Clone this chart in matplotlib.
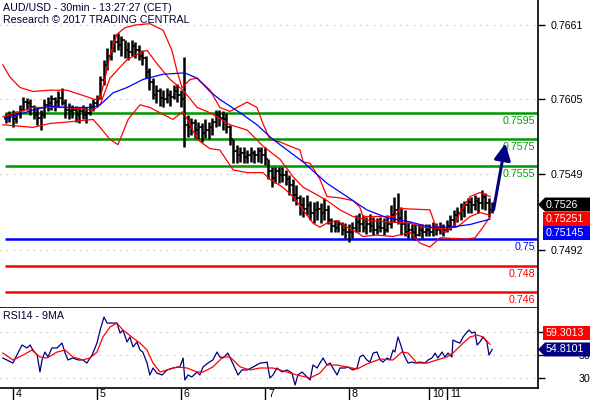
import numpy as np
import matplotlib
matplotlib.use("Agg")
import matplotlib.pyplot as plt
import matplotlib.transforms as mtrans
from matplotlib.patches import Polygon

plt.rcParams['font.family'] = ['Liberation Sans', 'DejaVu Sans']

# hourly bars, x = trading hours since the 4th 00:00 CET (weekend removed)
first_hour = -2
bar_high = [0.7595, 0.7596, 0.7597, 0.7596, 0.7601, 0.7607, 0.7606, 0.7605, 0.7601, 0.7599,
            0.7597, 0.7605, 0.7607, 0.7608, 0.7607, 0.7611, 0.7614, 0.7605, 0.7602, 0.7601,
            0.7600, 0.7599, 0.7601, 0.7599, 0.7602, 0.7605, 0.7608, 0.7623, 0.7635, 0.7644,
            0.7650, 0.7654, 0.7655, 0.7653, 0.7650, 0.7648, 0.7650, 0.7648, 0.7646, 0.7642,
            0.7638, 0.7629, 0.7621, 0.7616, 0.7614, 0.7612, 0.7614, 0.7612, 0.7616, 0.7617,
            0.7612, 0.7637, 0.7593, 0.7591, 0.7590, 0.7588, 0.7587, 0.7590, 0.7588, 0.7591,
            0.7597, 0.7597, 0.7596, 0.7595, 0.7586, 0.7575, 0.7571, 0.7569, 0.7569, 0.7567,
            0.7569, 0.7567, 0.7569, 0.7569, 0.7569, 0.7560, 0.7554, 0.7554, 0.7554, 0.7554,
            0.7552, 0.7548, 0.7545, 0.7541, 0.7533, 0.7532, 0.7533, 0.7529, 0.7528, 0.7529,
            0.7527, 0.7531, 0.7526, 0.7516, 0.7514, 0.7514, 0.7513, 0.7512, 0.7511, 0.7513,
            0.7518, 0.7520, 0.7518, 0.7517, 0.7519, 0.7517, 0.7516, 0.7517, 0.7516, 0.7518,
            0.7526, 0.7532, 0.7535, 0.7524, 0.7522, 0.7513, 0.7511, 0.7511, 0.7511, 0.7511,
            0.7511, 0.7511, 0.7513, 0.7512, 0.7513, 0.7511, 0.7514, 0.7518, 0.7522, 0.7524,
            0.7527, 0.7529, 0.7531, 0.7532, 0.7533, 0.7532, 0.7537, 0.7535, 0.7531, 0.7528]
bar_low = [0.7587, 0.7588, 0.7584, 0.7587, 0.7591, 0.7596, 0.7597, 0.7593, 0.7590, 0.7586,
           0.7582, 0.7591, 0.7596, 0.7597, 0.7596, 0.7599, 0.7601, 0.7591, 0.7590, 0.7591,
           0.7588, 0.7587, 0.7590, 0.7587, 0.7593, 0.7596, 0.7599, 0.7605, 0.7616, 0.7627,
           0.7635, 0.7641, 0.7642, 0.7638, 0.7636, 0.7635, 0.7638, 0.7636, 0.7635, 0.7631,
           0.7621, 0.7612, 0.7605, 0.7602, 0.7600, 0.7599, 0.7602, 0.7600, 0.7605, 0.7603,
           0.7599, 0.7569, 0.7577, 0.7578, 0.7576, 0.7575, 0.7573, 0.7576, 0.7575, 0.7578,
           0.7584, 0.7585, 0.7582, 0.7580, 0.7571, 0.7557, 0.7557, 0.7558, 0.7557, 0.7557,
           0.7558, 0.7557, 0.7558, 0.7557, 0.7556, 0.7545, 0.7539, 0.7542, 0.7542, 0.7543,
           0.7541, 0.7533, 0.7529, 0.7526, 0.7518, 0.7517, 0.7518, 0.7514, 0.7512, 0.7514,
           0.7512, 0.7514, 0.7511, 0.7505, 0.7505, 0.7505, 0.7503, 0.7501, 0.7498, 0.7501,
           0.7505, 0.7505, 0.7505, 0.7504, 0.7505, 0.7503, 0.7504, 0.7505, 0.7503, 0.7505,
           0.7508, 0.7513, 0.7511, 0.7503, 0.7502, 0.7501, 0.7501, 0.7499, 0.7502, 0.7501,
           0.7502, 0.7502, 0.7502, 0.7503, 0.7504, 0.7502, 0.7505, 0.7507, 0.7509, 0.7513,
           0.7514, 0.7517, 0.7520, 0.7520, 0.7522, 0.7520, 0.7523, 0.7522, 0.7517, 0.7520]
bar_close = [0.7591, 0.7593, 0.7590, 0.7594, 0.7597, 0.7603, 0.7602, 0.7599, 0.7593, 0.7591,
             0.7593, 0.7601, 0.7602, 0.7605, 0.7603, 0.7606, 0.7602, 0.7597, 0.7596, 0.7597,
             0.7593, 0.7596, 0.7593, 0.7595, 0.7599, 0.7602, 0.7605, 0.7620, 0.7631, 0.7638,
             0.7644, 0.7648, 0.7646, 0.7650, 0.7642, 0.7641, 0.7645, 0.7642, 0.7638, 0.7636,
             0.7626, 0.7618, 0.7608, 0.7611, 0.7606, 0.7605, 0.7608, 0.7607, 0.7611, 0.7608,
             0.7605, 0.7586, 0.7584, 0.7587, 0.7582, 0.7584, 0.7580, 0.7582, 0.7584, 0.7588,
             0.7593, 0.7591, 0.7590, 0.7584, 0.7575, 0.7566, 0.7563, 0.7565, 0.7562, 0.7563,
             0.7565, 0.7563, 0.7566, 0.7563, 0.7560, 0.7551, 0.7546, 0.7551, 0.7548, 0.7548,
             0.7545, 0.7541, 0.7533, 0.7531, 0.7526, 0.7523, 0.7526, 0.7520, 0.7522, 0.7523,
             0.7520, 0.7522, 0.7514, 0.7510, 0.7508, 0.7511, 0.7507, 0.7505, 0.7505, 0.7508,
             0.7513, 0.7511, 0.7508, 0.7511, 0.7510, 0.7507, 0.7509, 0.7508, 0.7507, 0.7511,
             0.7518, 0.7522, 0.7516, 0.7511, 0.7505, 0.7507, 0.7505, 0.7503, 0.7507, 0.7505,
             0.7507, 0.7505, 0.7508, 0.7507, 0.7508, 0.7507, 0.7510, 0.7514, 0.7518, 0.7520,
             0.7522, 0.7526, 0.7528, 0.7526, 0.7529, 0.7527, 0.7532, 0.7527, 0.7522, 0.7526]

# moving average (blue)
ma_hours = [-2.3, 2, 5.7, 10.6, 15.4, 22.9, 24.9, 28.6, 32.6, 37.1, 42.9, 49.1, 52.6, 56.3,
            59.1, 64.9, 69.7, 73.4, 76.3, 82.9, 89.7, 95.4, 101.1, 106.9, 113.4, 119.1,
            124.9, 130.6, 136.3]
ma_values = [0.7590, 0.7594, 0.7597, 0.7600, 0.7599, 0.7599, 0.7601, 0.7610, 0.7614, 0.7620,
             0.7624, 0.7625, 0.7621, 0.7611, 0.7605, 0.7595, 0.7586, 0.7577, 0.7571, 0.7558,
             0.7542, 0.7532, 0.7522, 0.7516, 0.7513, 0.7509, 0.7509, 0.7511, 0.7515]

# bollinger bands (red)
upper_hours = [-2.9, -0.9, 2, 5.7, 10.6, 15.4, 20, 23.4, 24.9, 26.3, 27.7, 29.7, 32, 34.9, 39.1,
               42.9, 45.4, 46.9, 48.3, 50.6, 52.6, 56.3, 59.1, 62, 64, 66.9, 69.7, 71.4, 73.4,
               76.3, 80, 82, 82.9, 84.9, 87.7, 89.7, 93.4, 97.1, 99.1, 100, 109.1, 110.6,
               119.1, 120.6, 123.4, 126.3, 127.7, 130.6, 133.4, 136.3]
upper_values = [0.7631, 0.7622, 0.7614, 0.7611, 0.7612, 0.7612, 0.7608, 0.7605, 0.7606, 0.7621,
                0.7638, 0.7654, 0.7659, 0.7661, 0.7662, 0.7657, 0.7642, 0.7626, 0.7614, 0.7620,
                0.7621, 0.7612, 0.7599, 0.7596, 0.7599, 0.7603, 0.7599, 0.7587, 0.7575, 0.7573,
                0.7569, 0.7567, 0.7558, 0.7557, 0.7545, 0.7532, 0.7531, 0.7529, 0.7524, 0.7517,
                0.7517, 0.7523, 0.7522, 0.7511, 0.7505, 0.7511, 0.7520, 0.7532, 0.7535, 0.7532]
mid_hours = [-2.9, 5.7, 15.4, 22.9, 24.9, 27.7, 32.6, 36.3, 38.3, 41.1, 44.9, 48.6, 52.6, 56.3,
             62, 66.9, 71.4, 76.3, 80, 82.9, 85.7, 89.7, 93.4, 97.1, 102, 106.9, 113.4, 117.1,
             122, 126.9, 130.6, 133.4, 136.3]
mid_values = [0.7592, 0.7599, 0.7599, 0.7597, 0.7601, 0.7621, 0.7635, 0.7640, 0.7642, 0.7632,
              0.7620, 0.7612, 0.7599, 0.7595, 0.7586, 0.7582, 0.7570, 0.7560, 0.7547, 0.7539,
              0.7535, 0.7529, 0.7522, 0.7517, 0.7514, 0.7513, 0.7512, 0.7509, 0.7508, 0.7509,
              0.7517, 0.7520, 0.7518]
lower_hours = [-2.9, 5.7, 10.6, 15.4, 22.9, 24.9, 27.7, 30, 32.9, 36.3, 39.1, 42, 45.7, 48.6,
               50.6, 52.6, 56.3, 59.1, 62.9, 66.9, 71.4, 73.4, 77.1, 80, 82.9, 85.7, 87.7, 89.7,
               92.6, 95.4, 98.3, 100, 104, 108.6, 113.4, 116.3, 119.1, 122, 129.7, 132, 134.3,
               136.3]
lower_values = [0.7586, 0.7584, 0.7587, 0.7588, 0.7590, 0.7584, 0.7575, 0.7571, 0.7590, 0.7601,
                0.7599, 0.7595, 0.7590, 0.7596, 0.7586, 0.7575, 0.7568, 0.7567, 0.7552, 0.7550,
                0.7550, 0.7545, 0.7539, 0.7532, 0.7522, 0.7512, 0.7509, 0.7512, 0.7514, 0.7509,
                0.7505, 0.7502, 0.7503, 0.7502, 0.7505, 0.7497, 0.7494, 0.7501, 0.7500, 0.7501,
                0.7509, 0.7517]

# RSI14 (navy) and its 9-period average (red)
rsi_hours = [-2.9, 0, 1.4, 2.6, 4, 4.9, 5.7, 6.9, 7.7, 8.3, 9.1, 10, 11.1, 12.6, 14, 14.9, 15.7,
             17.1, 18.6, 20, 21.1, 22.6, 24, 24.9, 26, 26.9, 28.3, 29.7, 30.6, 31.4, 32.6, 33.4,
             34.3, 35.4, 36.3, 37.1, 38.3, 39.1, 40, 41.1, 42.6, 44, 45.7, 47.7, 48.6, 49.1,
             50, 51.1, 52.6, 53.4, 54.3, 55.7, 57.1, 58.3, 59.1, 60, 61.4, 62.6, 63.4, 64.3,
             65.4, 66.9, 68.6, 70.6, 72, 72.6, 73.4, 74.3, 75.4, 76.9, 78.3, 79.7, 80.6, 81.4,
             82.6, 84, 84.9, 85.7, 86.9, 87.7, 88.6, 89.7, 90.6, 91.4, 92.6, 93.4, 94.9, 95.7,
             97.1, 98.3, 99.1, 100, 101.1, 102, 102.9, 104, 104.9, 105.7, 106.9, 107.7, 108.6,
             109.1, 110, 110.6, 111.4, 112, 112.9, 114, 114.9, 116.3, 117.7, 118.6, 119.7,
             120.6, 121.4, 122.6, 123.4, 124.3, 125.4, 125.7, 126.9, 127.7, 128.6, 129.7,
             130.3, 131.1, 132, 132.6, 133.4, 134.3, 135.4, 136, 136.9]
rsi_values = [47.4, 43.0, 51.7, 58.7, 56.1, 58.7, 54.3, 50.0, 35.2, 45.7, 52.6, 48.3, 56.1, 56.1,
              60.4, 51.7, 45.7, 47.4, 45.7, 45.7, 43.0, 50.0, 60.4, 71.7, 83.0, 77.8, 77.8,
              77.8, 69.1, 71.7, 61.3, 65.7, 57.0, 61.3, 54.3, 52.6, 43.0, 32.6, 38.7, 34.3,
              32.6, 37.0, 38.7, 39.6, 47.4, 28.3, 32.6, 30.9, 35.2, 32.6, 39.6, 43.0, 45.7,
              52.6, 48.3, 47.4, 51.7, 43.9, 38.7, 32.6, 37.0, 37.0, 39.6, 43.0, 43.4, 43.9,
              30.0, 32.6, 38.7, 35.2, 37.0, 34.3, 23.9, 32.6, 35.2, 30.9, 28.3, 41.3, 38.7,
              43.0, 47.4, 41.3, 43.0, 38.7, 32.6, 38.7, 38.7, 39.6, 37.0, 38.7, 48.3, 50.0,
              45.7, 43.9, 51.7, 52.6, 45.7, 43.9, 47.4, 45.7, 54.3, 52.6, 65.7, 60.4, 52.6,
              48.3, 43.0, 43.9, 43.0, 43.9, 43.0, 45.7, 47.4, 51.7, 47.4, 52.6, 48.3, 51.7,
              48.3, 63.0, 61.3, 60.4, 65.7, 70.0, 71.7, 69.1, 70.0, 58.7, 61.3, 65.7, 61.3,
              50.0, 54.8101]
rsi_ma_hours = [-2.9, 0, 2.9, 5.4, 7.7, 9.7, 12.6, 14.9, 17.1, 20, 22, 24, 25.7, 27.7, 29.7,
                31.4, 34.3, 36.3, 38.3, 40, 42, 44, 46.9, 49.7, 52.6, 54.3, 57.1, 60, 62, 64.9,
                67.7, 70.6, 74.3, 78.3, 81.1, 84.9, 87.7, 89.7, 92.6, 95.4, 98.3, 101.1, 104.9,
                108.6, 111.1, 112.9, 115.4, 118.3, 121.1, 124, 125.7, 128.6, 130.6, 132.6,
                134.3, 136.3]
rsi_ma_values = [51.7, 45.7, 50.0, 54.3, 48.3, 47.4, 52.6, 54.3, 48.3, 45.7, 47.4, 52.6, 65.7,
                 74.3, 77.8, 71.7, 64.8, 60.4, 54.3, 43.0, 35.2, 37.0, 39.6, 38.7, 35.2, 35.2,
                 39.6, 48.3, 48.3, 39.6, 37.0, 38.7, 38.7, 35.2, 32.6, 30.0, 34.3, 41.3, 41.3,
                 39.6, 37.8, 42.2, 46.5, 45.7, 52.6, 51.7, 43.0, 43.0, 45.7, 48.3, 51.7, 60.4,
                 65.7, 67.4, 65.7, 59.3013]

day_hours = [0, 24, 48, 72, 96, 119, 124]
day_labels = ['4', '5', '6', '7', '8', '10', '11']
price_ticks = [0.7661, 0.7605, 0.7549, 0.7492]
rsi_ticks = [30, 50, 70]
rsi_tick_labels = ['30', '50', '']   # the 70 label sits under the MA value box
levels = [0.7595, 0.7575, 0.7555, 0.75, 0.748, 0.746]
level_labels = ['0.7595', '0.7575', '0.7555', '0.75', '0.748', '0.746']
level_colors = ['#009600', '#009600', '#009600', '#0000ff', '#ff0000', '#ff0000']
level_text_colors = ['#00a000', '#00a000', '#00a000', '#0000ff', '#ff0000', '#ff0000']
arrow_from = (137.3, 0.7522)
arrow_to = (140.7, 0.7572)
last_ma_label = '0.75145'
last_band_label = '0.75251'

W, H = 590, 400
fig = plt.figure(figsize=(W / 100, H / 100), dpi=100)
ax = fig.add_axes([0, 92 / H, 538 / W, 308 / H])
rs = fig.add_axes([0, 12 / H, 538 / W, 80 / H])

xmin, xmax = -3.71, 150
ax.set_xlim(xmin, xmax)
ax.set_ylim(0.74482, 0.76798)
rs.set_xlim(xmin, xmax)
rs.set_ylim(21.3, 90.9)

for a in (ax, rs):
    a.spines['left'].set_visible(False)
    a.spines['top'].set_visible(False)
    a.spines['right'].set_linewidth(1.2)
    a.spines['bottom'].set_linewidth(1.2)
    a.yaxis.tick_right()
    a.grid(axis='y', color='#b4b4b4', linestyle=(0, (1, 5)), linewidth=0.8)

# price panel
ax.set_xticks([])
ax.set_yticks(price_ticks)
ax.set_yticklabels([f'{t:.4f}' for t in price_ticks])
ax.tick_params(axis='y', length=5, width=1, labelsize=7.7, pad=4, colors='black')

x0 = xmin + (xmax - xmin) * 5 / 538
for lv, lab, c, tc in zip(levels, level_labels, level_colors, level_text_colors):
    ax.plot([x0, xmax], [lv, lv], color=c, lw=1.8, solid_capstyle='butt', zorder=2)
    off = mtrans.ScaledTranslation(-3 / 100, -3 / 100, fig.dpi_scale_trans)
    ax.text(1, lv, lab, transform=mtrans.blended_transform_factory(ax.transAxes, ax.transData) + off,
            ha='right', va='top', fontsize=7.7, color=tc)

hours = np.arange(len(bar_close)) + first_hour
bar_open = [bar_close[0]] + bar_close[:-1]
ax.vlines(hours, bar_low, bar_high, color='black', lw=1.8, zorder=3)
ax.hlines(bar_open, hours - 0.55, hours, color='black', lw=1.2, zorder=3)
ax.hlines(bar_close, hours, hours + 0.55, color='black', lw=1.2, zorder=3)

ax.plot(upper_hours, upper_values, color='#ff0000', lw=0.9, zorder=4)
ax.plot(mid_hours, mid_values, color='#ff0000', lw=0.9, zorder=4)
ax.plot(lower_hours, lower_values, color='#ff0000', lw=0.9, zorder=4)
ax.plot(ma_hours, ma_values, color='#0000ff', lw=0.9, zorder=4)

ax.annotate('', xy=arrow_to, xytext=arrow_from,
            arrowprops=dict(arrowstyle='-|>,head_length=1.0,head_width=0.5', color='#000080',
                            lw=2.2, shrinkA=0, shrinkB=0), zorder=5)

fig.text(3 / W, 1 - 8 / H, 'AUD/USD - 30min - 13:27:27 (CET)', fontsize=7.7, color='#000030', va='center')
fig.text(3 / W, 1 - 20 / H, 'Research \u00a9 2017 TRADING CENTRAL', fontsize=7.7, color='#000030', va='center')


def side_box(axis, value, text, color, dy=0, arrow=False):
    # value label box right of the panel, dy in pixels (down positive)
    y = axis.transData.transform((0, value))[1] - dy
    hh = 7
    if arrow:
        pts = [(538, y), (545, y + hh), (W, y + hh), (W, y - hh), (545, y - hh)]
    else:
        pts = [(543, y + hh), (W, y + hh), (W, y - hh), (543, y - hh)]
    fig.patches.append(Polygon(pts, closed=True, transform=None, facecolor=color,
                               edgecolor='none', zorder=10))
    fig.text(546 / W, y / H, text, fontsize=7.7, color='white', va='center', ha='left', zorder=11)


# RSI panel
rs.plot(rsi_hours, rsi_values, color='#000080', lw=0.9)
rs.plot(rsi_ma_hours, rsi_ma_values, color='#ff0000', lw=0.9)
rs.set_yticks(rsi_ticks)
rs.set_yticklabels(rsi_tick_labels)
rs.tick_params(axis='y', length=5, width=1, labelsize=7.7, pad=33, colors='black')
for t in rs.get_yticklabels():
    t.set_horizontalalignment('right')
rs.text(3 / 538, 0.9, 'RSI14 - 9MA', transform=rs.transAxes, fontsize=7.7, color='#000030', va='center')

rs.set_xticks(day_hours)
rs.set_xticklabels([])
rs.tick_params(axis='x', length=9, width=1, direction='out')
xt = mtrans.blended_transform_factory(rs.transData, rs.transAxes) + \
    mtrans.ScaledTranslation(3 / 100, -1 / 100, fig.dpi_scale_trans)
for h, lab in zip(day_hours, day_labels):
    rs.text(h, 0, lab, transform=xt, fontsize=7.7, ha='left', va='top')

side_box(ax, bar_close[-1], f'{bar_close[-1]:.4f}', 'black', arrow=True)
side_box(ax, bar_close[-1], last_band_label, '#ff0000', dy=14)
side_box(ax, bar_close[-1], last_ma_label, '#0000ff', dy=28)
side_box(rs, rsi_values[-1], f'{rsi_values[-1]:.4f}', '#000080', arrow=True)
side_box(rs, rsi_values[-1], f'{rsi_ma_values[-1]:.4f}', '#ff0000', dy=-16)

fig.savefig('out.png', dpi=100)
